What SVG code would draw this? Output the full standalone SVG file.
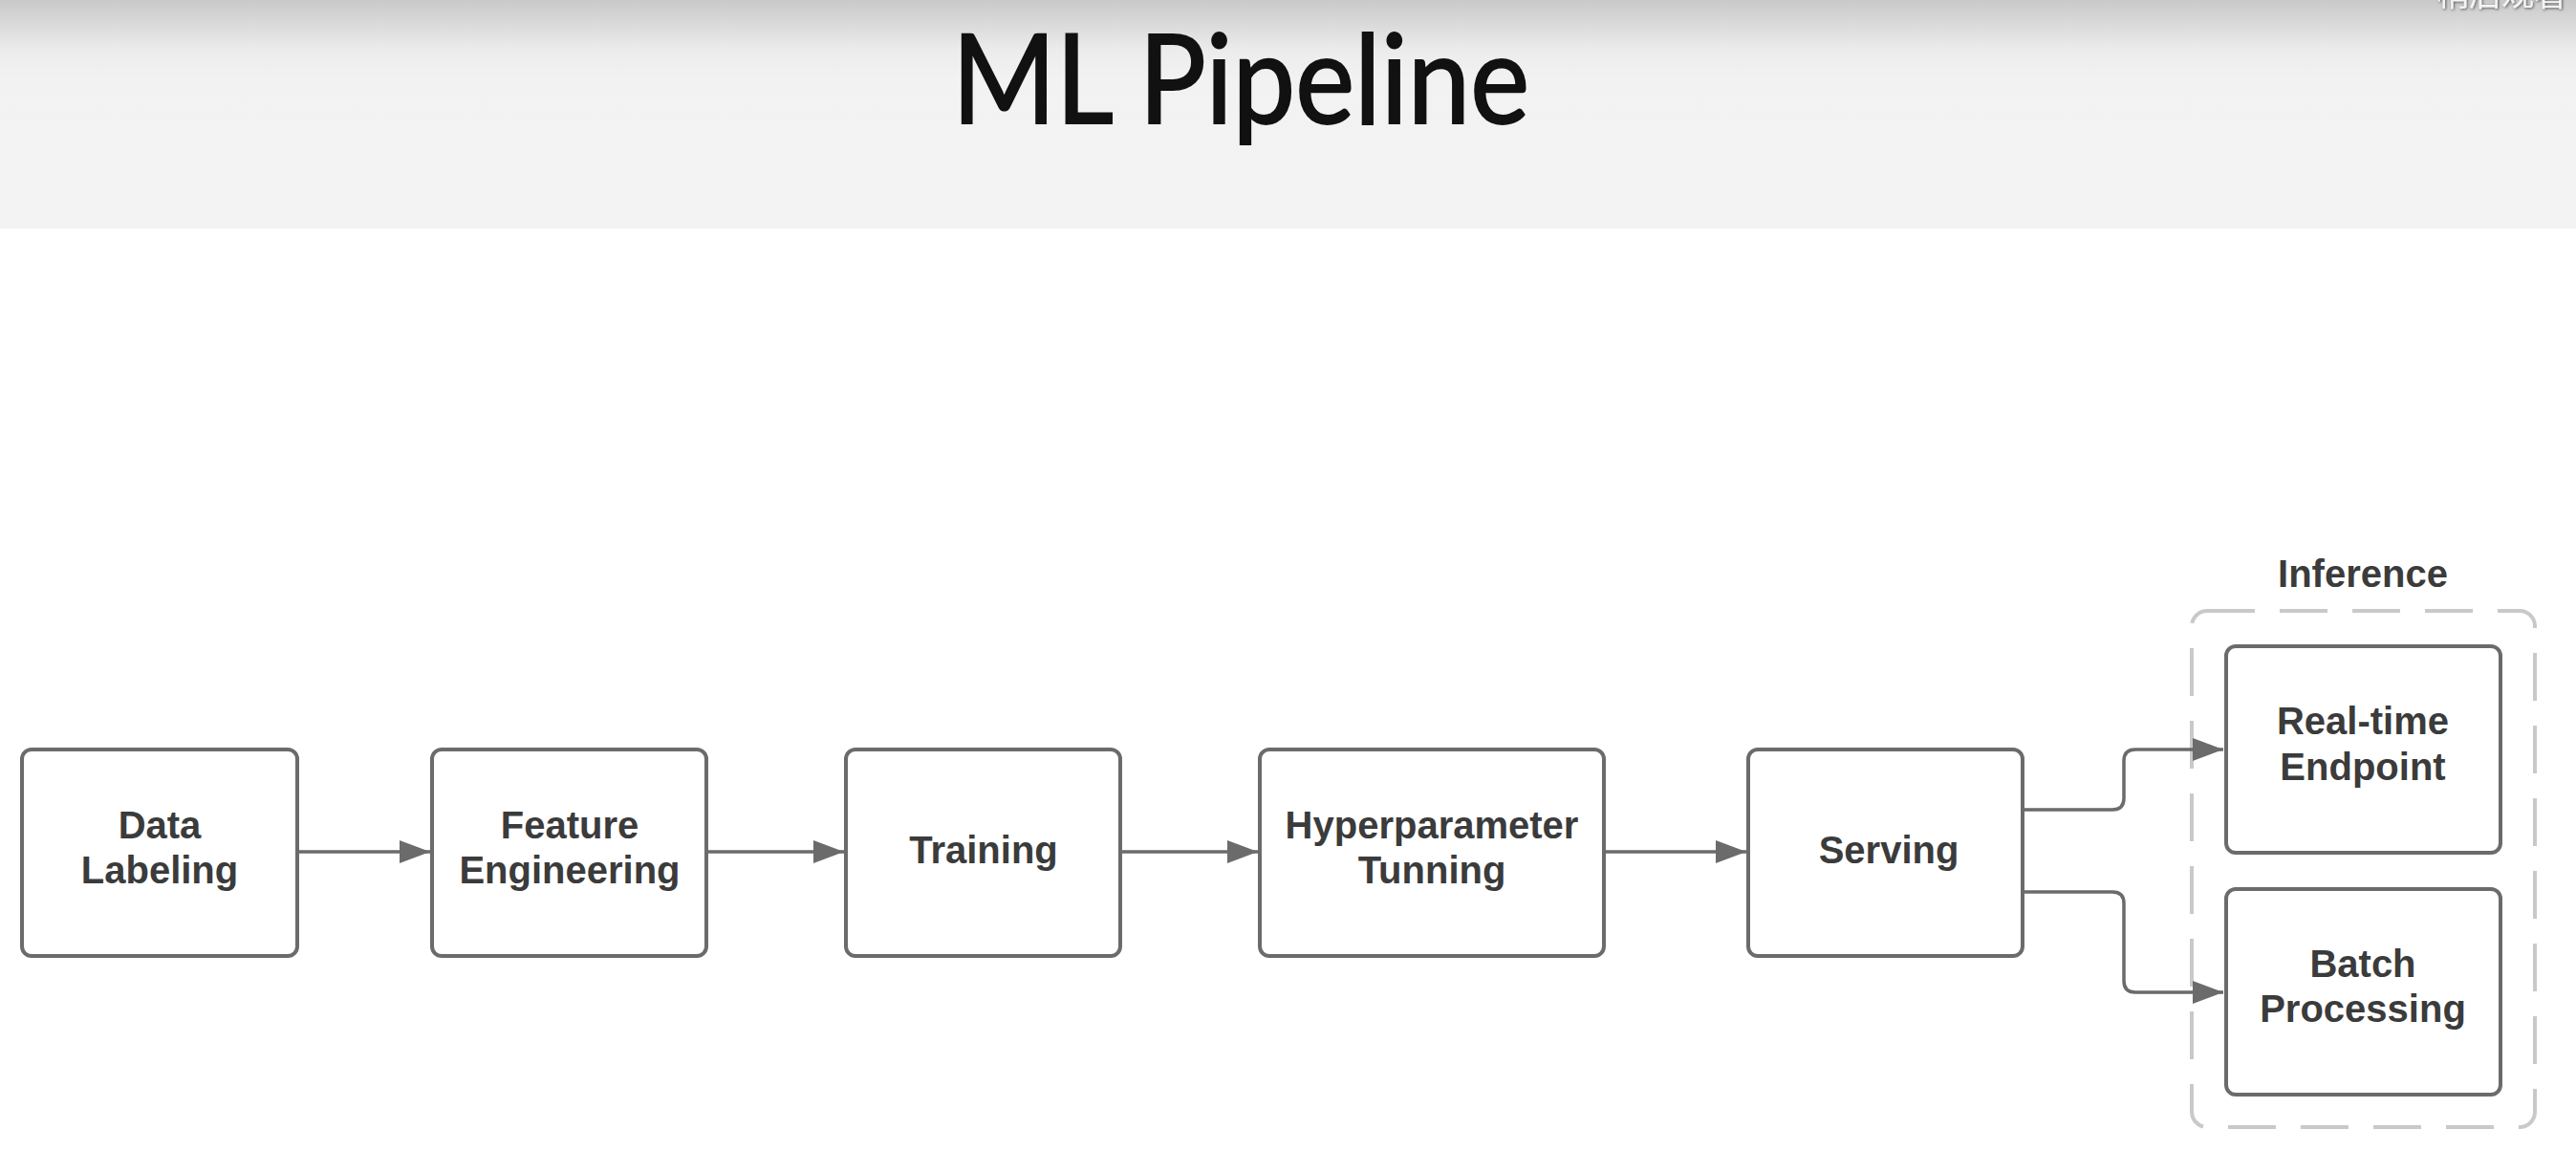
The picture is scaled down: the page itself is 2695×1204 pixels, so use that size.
<svg xmlns="http://www.w3.org/2000/svg" width="2695" height="1204" viewBox="0 0 2695 1204">
<defs>
<linearGradient id="hdr" x1="0" y1="0" x2="0" y2="1" gradientUnits="objectBoundingBox">
<stop offset="0" stop-color="#c9c9c9"/>
<stop offset="0.22" stop-color="#ececec"/>
<stop offset="0.35" stop-color="#f2f2f2"/>
<stop offset="1" stop-color="#f3f3f3"/>
</linearGradient>
<marker id="arr" markerUnits="userSpaceOnUse" markerWidth="32" markerHeight="24" refX="32" refY="12" orient="auto">
<path d="M0,0 L32,12 L0,24 z" fill="#6b6b6b"/>
</marker>
<filter id="sh" x="-10%" y="-50%" width="120%" height="200%">
<feDropShadow dx="1" dy="1" stdDeviation="1.5" flood-color="#000" flood-opacity="0.6"/>
</filter>
<style>
.box{fill:#ffffff;stroke:#6b6b6b;stroke-width:4}
.lbl{font-family:"Liberation Sans",Arial,sans-serif;font-weight:bold;font-size:40px;fill:#3b3b3b;text-anchor:middle}
.con{fill:none;stroke:#6b6b6b;stroke-width:3.5}
</style>
</defs>
<rect x="0" y="0" width="2695" height="1204" fill="#ffffff"/>
<rect x="0" y="0" width="2695" height="239" fill="url(#hdr)"/>
<text x="2617" y="6" font-family="'Noto Sans CJK SC',sans-serif" font-size="34" fill="#f4f4f4" text-anchor="middle" filter="url(#sh)">稍后观看</text>
<text id="title" x="996" y="129" font-family="Lato,'Open Sans',sans-serif" font-size="130" fill="#111111" stroke="#111111" stroke-width="2" textLength="604" lengthAdjust="spacingAndGlyphs">ML Pipeline</text>

<g id="inference">
<rect x="2293" y="639" width="359" height="540" rx="16" fill="none" stroke="#c9c9c9" stroke-width="4" stroke-dasharray="50 26"/>
<text class="lbl" x="2472" y="614">Inference</text>
</g>

<g id="connectors">
<line class="con" x1="311" y1="891" x2="450" y2="891" marker-end="url(#arr)"/>
<line class="con" x1="739" y1="891" x2="883" y2="891" marker-end="url(#arr)"/>
<line class="con" x1="1172" y1="891" x2="1316" y2="891" marker-end="url(#arr)"/>
<line class="con" x1="1678" y1="891" x2="1827" y2="891" marker-end="url(#arr)"/>
<path class="con" d="M2116,847 H2210 Q2222,847 2222,835 V796 Q2222,784 2234,784 H2326" marker-end="url(#arr)"/>
<path class="con" d="M2116,933 H2210 Q2222,933 2222,945 V1026 Q2222,1038 2234,1038 H2326" marker-end="url(#arr)"/>
</g>

<g id="data-labeling">
<rect class="box" x="23" y="784" width="288" height="216" rx="10"/>
<text class="lbl" x="167" y="877">Data</text>
<text class="lbl" x="167" y="924">Labeling</text>
</g>
<g id="feature-engineering">
<rect class="box" x="452" y="784" width="287" height="216" rx="10"/>
<text class="lbl" x="596" y="877">Feature</text>
<text class="lbl" x="596" y="924">Engineering</text>
</g>
<g id="training">
<rect class="box" x="885" y="784" width="287" height="216" rx="10"/>
<text class="lbl" x="1029" y="903">Training</text>
</g>
<g id="hyperparameter-tunning">
<rect class="box" x="1318" y="784" width="360" height="216" rx="10"/>
<text class="lbl" x="1498" y="877">Hyperparameter</text>
<text class="lbl" x="1498" y="924">Tunning</text>
</g>
<g id="serving">
<rect class="box" x="1829" y="784" width="287" height="216" rx="10"/>
<text class="lbl" x="1976" y="903">Serving</text>
</g>
<g id="real-time-endpoint">
<rect class="box" x="2329" y="676" width="287" height="216" rx="10"/>
<text class="lbl" x="2472" y="768">Real-time</text>
<text class="lbl" x="2472" y="816">Endpoint</text>
</g>
<g id="batch-processing">
<rect class="box" x="2329" y="930" width="287" height="215" rx="10"/>
<text class="lbl" x="2472" y="1022">Batch</text>
<text class="lbl" x="2472" y="1069">Processing</text>
</g>
</svg>
